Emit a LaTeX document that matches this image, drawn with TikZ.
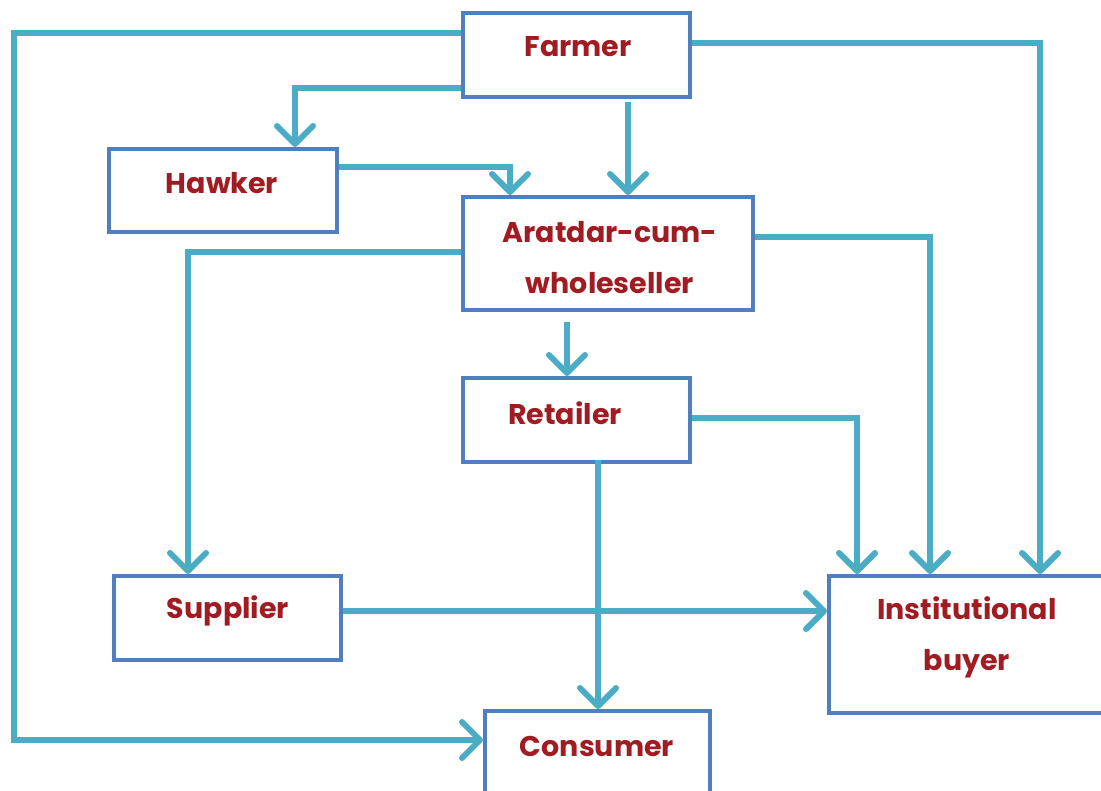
\documentclass[tikz,border=0pt]{standalone}
\usepackage{fontspec}
\setmainfont{Poppins}
\usetikzlibrary{arrows.meta}
\definecolor{boxblue}{HTML}{4F7FBF}
\definecolor{conncol}{HTML}{4BACC6}
\definecolor{txtred}{HTML}{A01C22}
\tikzset{
  box/.style={draw=boxblue, line width=4pt, fill=white, inner sep=0pt},
  lbl/.style={text=txtred, font=\bfseries\fontsize{28.5}{51}\selectfont, align=center, inner sep=0pt},
  conn/.style={draw=conncol, line width=6pt, line join=miter, -{Straight Barb[length=18pt,width=36pt,round]}}
}
\begin{document}
\begin{tikzpicture}[x=1pt,y=-1pt]
\useasboundingbox (0,0) rectangle (1101,791);
\fill[white] (0,0) rectangle (1101,791);
% boxes
\node[box, minimum width=227pt, minimum height=84pt] (farmer) at (576.5,55) {};
\node[box, minimum width=228pt, minimum height=83pt] (hawker) at (223,190.5) {};
\node[box, minimum width=290pt, minimum height=113pt] (aratdar) at (608,253.5) {};
\node[box, minimum width=227pt, minimum height=84pt] (retailer) at (576.5,420) {};
\node[box, minimum width=227pt, minimum height=84pt] (supplier) at (227.5,618) {};
\node[box, minimum width=277pt, minimum height=137pt] (inst) at (967.5,644.5) {};
\node[box, minimum width=225pt, minimum height=89pt] (consumer) at (597.5,755.5) {};
% labels
\node[lbl] (farmerT) at (578,47) {Farmer};
\node[lbl] (hawkerT) at (222,183) {Hawker};
\node[lbl] (aratdarT) at (610,258) {Aratdar-cum-\\wholeseller};
\node[lbl] (retailerT) at (565,413) {Retailer};
\node[lbl] (supplierT) at (228,611) {Supplier};
\node[lbl] (instT) at (967,637) {Institutional\\buyer};
\node[lbl] (consumerT) at (597,746) {Consumer};
% connectors
\coordinate (tl) at (14,33);
\coordinate (bl) at (14,740);
\draw[conn] ([yshift=22pt]farmer.west) -- (tl) -- (bl) -- ([yshift=15.5pt]consumer.west);
\draw[conn] ([yshift=-33pt]farmer.west) -| ([xshift=72pt]hawker.north);
\draw[conn] ([xshift=51.5pt,yshift=-3pt]farmer.south) -- ([xshift=20pt]aratdar.north);
\draw[conn] ([yshift=23.5pt]hawker.east) -| ([xshift=-98pt]aratdar.north);
\draw[conn] ([yshift=12pt]farmer.east) -| ([xshift=72.5pt]inst.north);
\draw[conn] ([yshift=1.5pt]aratdar.west) -| ([xshift=-39.5pt]supplier.north);
\draw[conn] ([yshift=16.5pt]aratdar.east) -| ([xshift=-37.5pt]inst.north);
\draw[conn] ([xshift=-41pt,yshift=-10pt]aratdar.south) -- ([xshift=-9.5pt]retailer.north);
\draw[conn] ([yshift=2pt]retailer.east) -| ([xshift=-110.5pt]inst.north);
\draw[conn] ([xshift=21.5pt,yshift=4pt]retailer.south) -- ([xshift=0.5pt]consumer.north);
\draw[conn] ([yshift=7pt]supplier.east) -- ([yshift=33.5pt]inst.west);
\end{tikzpicture}
\end{document}
